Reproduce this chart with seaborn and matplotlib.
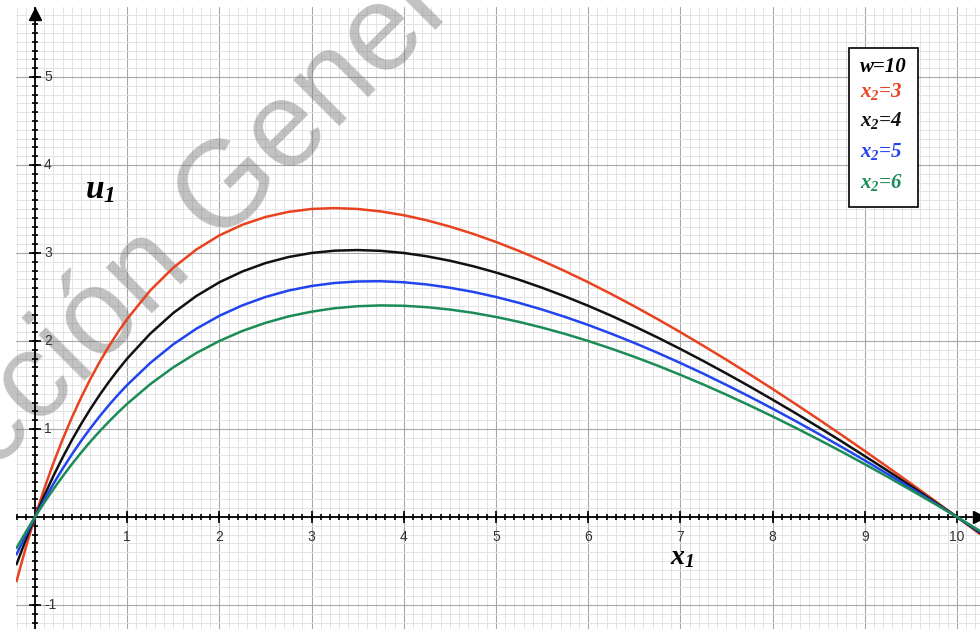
import matplotlib
matplotlib.use("Agg")
import matplotlib.pyplot as plt
import matplotlib.patches as mpatches
import numpy as np
import pandas as pd
import seaborn as sns

# ---------------- data ----------------
x1 = [-0.2, -0.1, 0, 0.1, 0.2, 0.3, 0.4, 0.5, 0.6, 0.7, 0.8, 0.9, 1, 1.25, 1.5, 1.75,
      2, 2.25, 2.5, 2.75, 3, 3.25, 3.5, 3.75, 4, 4.25, 4.5, 4.75, 5, 5.25, 5.5, 5.75,
      6, 6.25, 6.5, 6.75, 7, 7.25, 7.5, 7.75, 8, 8.25, 8.5, 8.75, 9, 9.25, 9.5, 9.75,
      10, 10.3]
u_x2_3 = [-0.729, -0.348, 0, 0.319, 0.613, 0.882, 1.129, 1.357, 1.567, 1.759, 1.937,
          2.1, 2.25, 2.574, 2.833, 3.039, 3.2, 3.321, 3.409, 3.467, 3.5, 3.51, 3.5,
          3.472, 3.429, 3.371, 3.3, 3.218, 3.125, 3.023, 2.912, 2.793, 2.667, 2.534,
          2.395, 2.25, 2.1, 1.945, 1.786, 1.622, 1.455, 1.283, 1.109, 0.931, 0.75,
          0.566, 0.38, 0.191, 0, -0.232]
u_x2_4 = [-0.537, -0.259, 0, 0.241, 0.467, 0.677, 0.873, 1.056, 1.226, 1.385, 1.533,
          1.671, 1.8, 2.083, 2.318, 2.511, 2.667, 2.79, 2.885, 2.954, 3.0, 3.026, 3.033,
          3.024, 3.0, 2.962, 2.912, 2.85, 2.778, 2.696, 2.605, 2.506, 2.4, 2.287, 2.167,
          2.041, 1.909, 1.772, 1.63, 1.484, 1.333, 1.179, 1.02, 0.858, 0.692, 0.524,
          0.352, 0.177, 0, -0.216]
u_x2_5 = [-0.425, -0.206, 0, 0.194, 0.377, 0.549, 0.711, 0.864, 1.007, 1.142, 1.269,
          1.388, 1.5, 1.75, 1.962, 2.139, 2.286, 2.405, 2.5, 2.573, 2.625, 2.659, 2.676,
          2.679, 2.667, 2.642, 2.605, 2.558, 2.5, 2.433, 2.357, 2.273, 2.182, 2.083,
          1.978, 1.867, 1.75, 1.628, 1.5, 1.368, 1.231, 1.09, 0.944, 0.795, 0.643,
          0.487, 0.328, 0.165, 0, -0.202]
u_x2_6 = [-0.352, -0.171, 0, 0.162, 0.316, 0.462, 0.6, 0.731, 0.855, 0.972, 1.082,
          1.187, 1.286, 1.509, 1.7, 1.863, 2.0, 2.114, 2.206, 2.279, 2.333, 2.372, 2.395,
          2.404, 2.4, 2.384, 2.357, 2.32, 2.273, 2.217, 2.152, 2.08, 2.0, 1.913, 1.82,
          1.721, 1.615, 1.505, 1.389, 1.268, 1.143, 1.013, 0.879, 0.742, 0.6, 0.455,
          0.306, 0.155, 0, -0.190]
series_names = ["x2=3", "x2=4", "x2=5", "x2=6"]
legend_labels = [r"$x_2$=3", r"$x_2$=4", r"$x_2$=5", r"$x_2$=6"]
header_label = "w=10"
x_tick_labels = ["1", "2", "3", "4", "5", "6", "7", "8", "9", "10"]
y_tick_labels = ["-1", "1", "2", "3", "4", "5"]
x_ticks = [1, 2, 3, 4, 5, 6, 7, 8, 9, 10]
y_ticks = [-1, 1, 2, 3, 4, 5]
watermark = "Dirección General"

colors = ["#e8421f", "#111111", "#2244ee", "#1b8c55"]

df = pd.DataFrame({
    "x1": x1 * 4,
    "u1": u_x2_3 + u_x2_4 + u_x2_5 + u_x2_6,
    "serie": sum([[n] * len(x1) for n in series_names], []),
})

# ---------------- style ----------------
sns.set_style("white")
plt.rcParams["font.family"] = ["Liberation Sans", "DejaVu Sans"]
plt.rcParams["mathtext.fontset"] = "custom"
plt.rcParams["mathtext.it"] = "Liberation Serif:italic:bold"
plt.rcParams["mathtext.rm"] = "Liberation Serif:italic:bold"
plt.rcParams["mathtext.bf"] = "Liberation Serif:italic:bold"

W, H = 980, 629
fig = plt.figure(figsize=(W / 100, H / 100), dpi=100)
ax = fig.add_axes([16 / W, 0, (W - 16) / W, (H - 7) / H])
ax.set_xlim(-0.206, 10.25)
ax.set_ylim(-1.273, 5.795)
for s in ax.spines.values():
    s.set_visible(False)

# grid
ax.set_xticks(np.arange(0, 11, 1))
ax.set_yticks(np.arange(-1, 6, 1))
ax.set_xticks(np.arange(-0.2, 10.3, 0.1), minor=True)
ax.set_yticks(np.arange(-1.2, 5.8, 0.1), minor=True)
ax.grid(which="minor", color="#e4e4e4", lw=0.7, zorder=0)
ax.grid(which="major", color="#a8a8a8", lw=0.8, zorder=0)
ax.tick_params(which="both", length=0, labelbottom=False, labelleft=False)
ax.set_axisbelow(True)

# watermark
ax.text(180 / W, 1 - 285 / H, watermark, transform=fig.transFigure,
        rotation=45, rotation_mode="anchor", ha="center", va="baseline",
        fontsize=88, color="#777777", alpha=0.45, family="Liberation Sans",
        zorder=1, clip_on=False)

# axes lines with small ticks
ax.axhline(0, color="black", lw=1.3, zorder=2)
ax.axvline(0, color="black", lw=1.3, zorder=2)
tx = np.arange(-0.2, 10.25, 0.1)
ax.plot(tx, np.zeros_like(tx), ls="", marker="|", ms=5, mew=1.2, color="black", zorder=2)
ax.plot(x_ticks, np.zeros(len(x_ticks)), ls="", marker="|", ms=8, mew=1.2, color="black", zorder=2)
ty = np.arange(-1.2, 5.7, 0.1)
ax.plot(np.zeros_like(ty), ty, ls="", marker="_", ms=5, mew=1.2, color="black", zorder=2)
ax.plot(np.zeros(len(y_ticks)), y_ticks, ls="", marker="_", ms=8, mew=1.2, color="black", zorder=2)
ax.plot([0], [5.71], marker="^", ms=8, color="black", clip_on=False, zorder=2)
ax.plot([10.24], [0], marker=">", ms=8, color="black", clip_on=False, zorder=2)

# tick labels
for v, lab in zip(x_ticks, x_tick_labels):
    ax.annotate(lab, (v, 0), xytext=(0, -9.5), textcoords="offset points",
                ha="center", va="top", fontsize=10, color="#333333")
ax.text(-0.26, -0.15, "0", ha="center", va="top", fontsize=10, color="#333333", clip_on=True)
for v, lab in zip(y_ticks, y_tick_labels):
    ax.annotate(lab, (0, v), xytext=(6.5, 0), textcoords="offset points",
                ha="left", va="center", fontsize=10, color="#333333")

# curves
sns.lineplot(data=df, x="x1", y="u1", hue="serie", palette=colors, estimator=None,
             sort=False, legend=False, lw=1.8, ax=ax, zorder=3)
ax.set_xlabel("")
ax.set_ylabel("")

# axis name labels
ax.text(0.54, 3.62, r"$u_1$", fontsize=24, color="black", ha="left", va="baseline", zorder=4)
ax.text(6.89, -0.54, r"$x_1$", fontsize=20, color="black", ha="left", va="baseline", zorder=4)

# legend box
ax.add_patch(mpatches.Rectangle((849 / W, 1 - 207 / H), 69 / W, 159 / H,
                                transform=fig.transFigure, facecolor="white",
                                edgecolor="black", lw=1.2, zorder=5, clip_on=False))
leg_font = dict(family="Liberation Serif", weight="bold", style="italic", fontsize=15)
ax.text(860 / W, 1 - 72 / H, header_label, transform=fig.transFigure,
        color="black", ha="left", va="baseline", zorder=6, **leg_font)
for lab, c, yb in zip(legend_labels, colors, [97, 126, 157, 188]):
    ax.text(860 / W, 1 - yb / H, lab, transform=fig.transFigure,
            color=c, ha="left", va="baseline", zorder=6, **leg_font)

fig.savefig("out.png", dpi=100, facecolor="white")
